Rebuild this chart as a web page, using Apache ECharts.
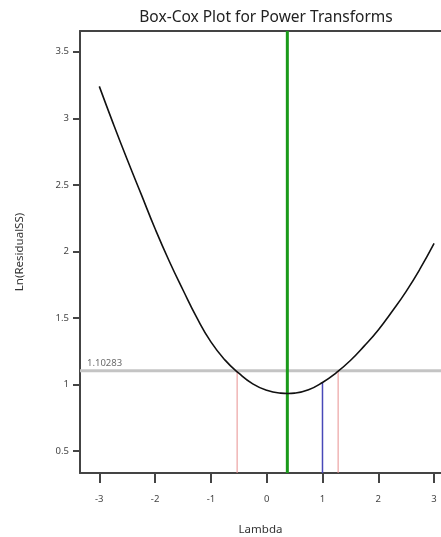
<!DOCTYPE html>
<html>
<head>
<meta charset="utf-8">
<script src="https://cdn.jsdelivr.net/npm/echarts@6/dist/echarts.min.js"></script>
<style>
  html, body { margin: 0; padding: 0; background: #fff; }
  #chart { width: 441px; height: 537px; }
</style>
</head>
<body>
<div id="chart"></div>
<script>
// Box-Cox curve
const lambdas = [-3, -2.75, -2.5, -2.25, -2, -1.75, -1.5, -1.25, -1, -0.75, -0.5, -0.25, 0, 0.25, 0.38, 0.5, 0.75, 1, 1.25, 1.5, 1.75, 2, 2.25, 2.5, 2.75, 3]
const lnRss = [3.24, 2.96, 2.69, 2.43, 2.17, 1.93, 1.71, 1.5, 1.32, 1.185, 1.085, 1.005, 0.957, 0.935, 0.932, 0.935, 0.96, 1.015, 1.09, 1.18, 1.29, 1.41, 1.55, 1.7, 1.87, 2.06]

const xTicks = [-3, -2, -1, 0, 1, 2, 3]
const yTicks = [0.5, 1, 1.5, 2, 2.5, 3, 3.5]

const threshold = 1.10283
const bestLambda = 0.37
const ciLow = -0.53
const ciHigh = 1.28
const currentLambda = 1
const currentValue = 1.015

const xMin = -3.346
const xMax = 3.124
const yMin = 0.335
const yMax = 3.656

const chart = echarts.init(document.getElementById('chart'))

const vline = (x, y0, y1) => [[x, y0], [x, y1]]

chart.setOption({
  animation: false,
  title: {
    text: 'Box-Cox Plot for Power Transforms',
    left: 261,
    top: 5,
    textAlign: 'center',
    textStyle: { fontFamily: 'Noto Sans', fontSize: 15.5, fontWeight: 'normal', color: '#222' }
  },
  grid: { left: 80, right: 0, top: 31, bottom: 64, containLabel: false, outerBoundsMode: 'none' },
  xAxis: [{
    type: 'value',
    min: xMin,
    max: xMax,
    name: 'Lambda',
    nameLocation: 'middle',
    nameGap: 51,
    nameTextStyle: { fontFamily: 'Noto Sans', fontSize: 11.5, color: '#333' },
    axisLine: { show: true, onZero: false, lineStyle: { color: '#444', width: 2 } },
    axisTick: { show: true, length: 10, customValues: xTicks, lineStyle: { color: '#444', width: 2 } },
    axisLabel: { customValues: xTicks, margin: 21, fontFamily: 'Noto Sans', fontSize: 9.5, color: '#444' },
    splitLine: { show: false }
  }, {
    type: 'value',
    position: 'top',
    min: xMin,
    max: xMax,
    axisLine: { show: true, onZero: false, lineStyle: { color: '#444', width: 2 } },
    axisTick: { show: false },
    axisLabel: { show: false },
    splitLine: { show: false }
  }],
  yAxis: {
    type: 'value',
    min: yMin,
    max: yMax,
    name: 'Ln(ResidualSS)',
    nameLocation: 'middle',
    nameGap: 54,
    nameTextStyle: { fontFamily: 'Noto Sans', fontSize: 11.5, color: '#333' },
    axisLine: { show: true, onZero: false, lineStyle: { color: '#444', width: 2 } },
    axisTick: { show: true, length: 7, customValues: yTicks, lineStyle: { color: '#444', width: 2 } },
    axisLabel: { customValues: yTicks, margin: 11, fontFamily: 'Noto Sans', fontSize: 9.5, color: '#444' },
    splitLine: { show: false }
  },
  series: [{
    name: 'threshold',
    type: 'line',
    data: [[xMin, threshold], [xMax, threshold]],
    showSymbol: false,
    lineStyle: { color: '#c4c4c4', width: 3 },
    silent: true,
    z: 1
  }, {
    name: 'ciLow',
    type: 'line',
    data: vline(ciLow, yMin, threshold),
    showSymbol: false,
    lineStyle: { color: '#e89090', width: 1 },
    z: 2
  }, {
    name: 'ciHigh',
    type: 'line',
    data: vline(ciHigh, yMin, threshold),
    showSymbol: false,
    lineStyle: { color: '#e89090', width: 1 },
    z: 2
  }, {
    name: 'current',
    type: 'line',
    data: vline(currentLambda, yMin, currentValue),
    showSymbol: false,
    lineStyle: { color: '#4848b8', width: 1.5 },
    z: 2
  }, {
    name: 'best',
    type: 'line',
    data: vline(bestLambda, yMin, yMax),
    showSymbol: false,
    lineStyle: { color: '#1a9a1a', width: 3 },
    z: 3
  }, {
    name: 'lnRss',
    type: 'line',
    data: lambdas.map((l, i) => [l, lnRss[i]]),
    smooth: true,
    showSymbol: false,
    lineStyle: { color: '#111', width: 1.6 },
    z: 4
  }, {
    name: 'label',
    type: 'scatter',
    data: [[xMin, threshold]],
    symbolSize: 0,
    label: {
      show: true,
      position: 'insideLeft',
      formatter: String(threshold),
      offset: [2, -8],
      fontFamily: 'Noto Sans',
      fontSize: 9.5,
      color: '#444'
    },
    z: 5
  }]
})
</script>
</body>
</html>
